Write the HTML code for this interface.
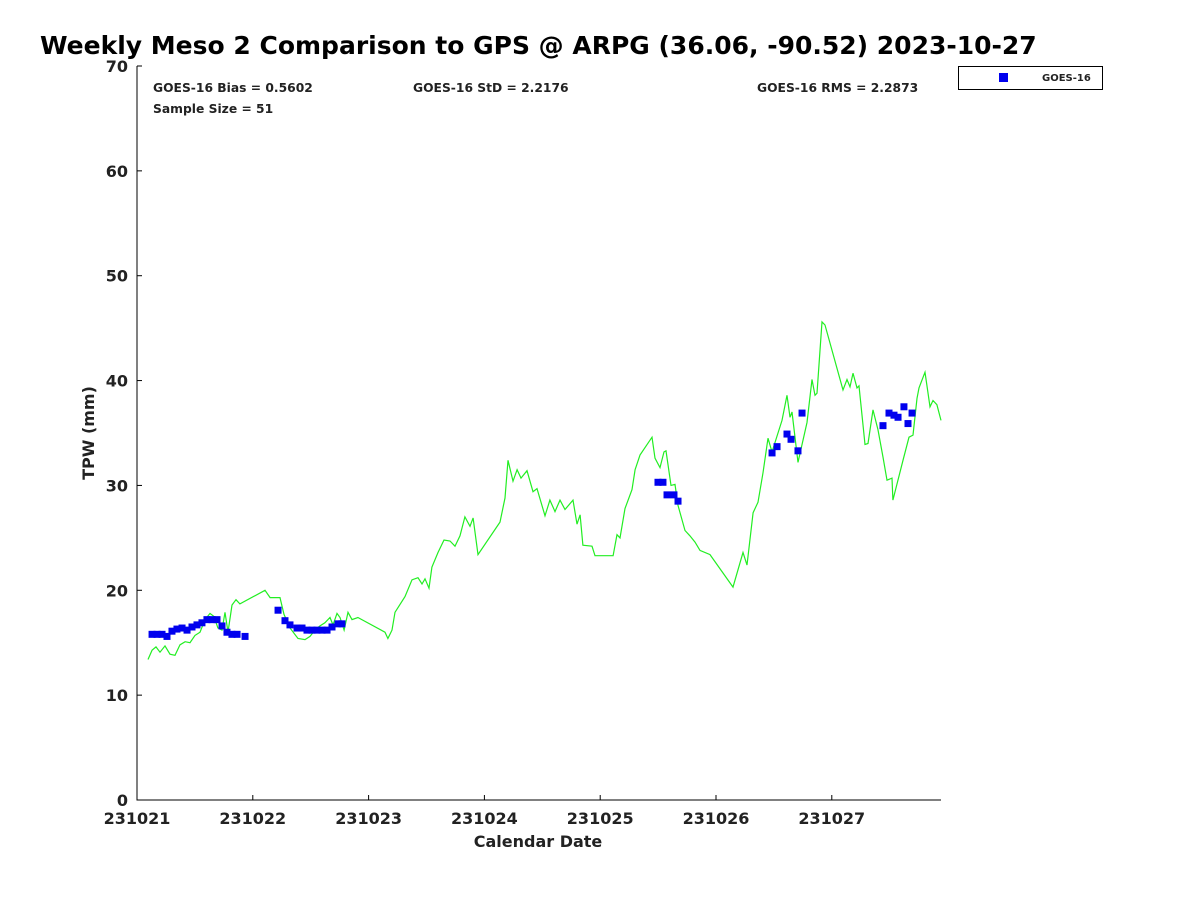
<!DOCTYPE html>
<html><head><meta charset="utf-8"><style>
body{margin:0;background:#fff;}
svg text{font-family:"DejaVu Sans","Liberation Sans",sans-serif;font-weight:bold;fill:#222;}
</style></head><body>
<svg id="chart" width="1200" height="900" xmlns="http://www.w3.org/2000/svg">
<text x="40" y="54" font-size="25" style="fill:#000">Weekly Meso 2 Comparison to GPS @ ARPG (36.06, -90.52) 2023-10-27</text>
<text x="153" y="92" font-size="12.3">GOES-16 Bias = 0.5602</text>
<text x="413" y="92" font-size="12.3">GOES-16 StD = 2.2176</text>
<text x="757" y="92" font-size="12.3">GOES-16 RMS = 2.2873</text>
<text x="153" y="113" font-size="12.3">Sample Size = 51</text>
<g>
<rect x="958.5" y="66.5" width="144" height="23" fill="#fff" stroke="#000"/>
<rect x="999" y="73" width="9" height="9" fill="#0000ee"/>
<text x="1042" y="81" font-size="10">GOES-16</text>
</g>
<text transform="translate(94,433) rotate(-90)" text-anchor="middle" font-size="16">TPW (mm)</text>
<text x="538" y="847" text-anchor="middle" font-size="16">Calendar Date</text>
<g id="axes"></g>
<g id="plot"></g>
</svg>
<script>
const yTicks=[0,10,20,30,40,50,60,70];
const xTickLabels=["231021","231022","231023","231024","231025","231026","231027"];
const gpsDays=[0.095,0.13,0.164,0.199,0.242,0.285,0.328,0.371,0.415,0.458,0.501,0.544,0.587,0.630,0.665,0.699,0.734,0.760,0.786,0.820,0.855,0.889,1.105,1.149,1.235,1.269,1.321,1.390,1.451,1.494,1.537,1.580,1.623,1.667,1.693,1.727,1.753,1.788,1.822,1.857,1.908,2.142,2.167,2.202,2.228,2.314,2.375,2.427,2.461,2.487,2.522,2.547,2.599,2.651,2.703,2.746,2.789,2.832,2.876,2.902,2.945,3.135,3.178,3.204,3.247,3.282,3.316,3.368,3.420,3.454,3.523,3.566,3.610,3.653,3.696,3.765,3.800,3.826,3.851,3.929,3.955,4.111,4.145,4.171,4.214,4.275,4.301,4.344,4.447,4.473,4.516,4.551,4.568,4.611,4.646,4.672,4.732,4.775,4.819,4.862,4.948,5.147,5.233,5.268,5.320,5.363,5.406,5.449,5.484,5.570,5.613,5.639,5.656,5.708,5.786,5.829,5.855,5.872,5.915,5.941,6.097,6.131,6.157,6.183,6.218,6.235,6.287,6.313,6.356,6.399,6.442,6.477,6.520,6.528,6.615,6.667,6.701,6.736,6.753,6.805,6.848,6.874,6.908,6.943];
const gpsTPW=[13.4,14.3,14.6,14.1,14.7,13.9,13.8,14.8,15.1,15.0,15.7,16.0,17.2,17.8,17.5,16.4,16.2,17.9,16.0,18.6,19.1,18.7,20.0,19.3,19.3,17.7,16.4,15.4,15.3,15.6,16.2,16.6,16.9,17.4,16.7,17.8,17.4,16.2,17.9,17.2,17.4,16.0,15.4,16.2,17.9,19.4,21.0,21.2,20.6,21.1,20.2,22.2,23.6,24.8,24.7,24.2,25.2,27.0,26.1,26.9,23.4,26.5,28.8,32.4,30.4,31.5,30.7,31.4,29.4,29.7,27.1,28.6,27.5,28.6,27.7,28.6,26.3,27.2,24.3,24.2,23.3,23.3,25.3,25.0,27.8,29.6,31.5,32.9,34.6,32.6,31.7,33.2,33.3,30.0,30.1,28.1,25.7,25.2,24.6,23.8,23.4,20.3,23.6,22.4,27.4,28.4,31.2,34.5,33.2,36.2,38.6,36.5,37.0,32.2,36.0,40.1,38.6,38.8,45.6,45.3,39.1,40.1,39.4,40.7,39.3,39.5,33.9,34.0,37.2,35.3,32.7,30.5,30.7,28.6,32.4,34.6,34.8,38.3,39.3,40.8,37.5,38.1,37.7,36.2];
const goesDays=[0.13,0.173,0.216,0.259,0.302,0.345,0.389,0.432,0.475,0.518,0.561,0.604,0.648,0.691,0.734,0.777,0.82,0.864,0.933,1.218,1.278,1.321,1.382,1.425,1.468,1.511,1.554,1.598,1.641,1.684,1.736,1.770,4.499,4.542,4.577,4.637,4.672,5.484,5.527,5.613,5.648,5.708,5.743,6.442,6.494,6.537,6.572,6.623,6.658,6.693];
const goesTPW=[15.8,15.8,15.8,15.6,16.1,16.3,16.4,16.2,16.5,16.7,16.9,17.2,17.2,17.2,16.6,16.0,15.8,15.8,15.6,18.1,17.1,16.7,16.4,16.4,16.2,16.2,16.2,16.2,16.2,16.5,16.8,16.8,30.3,30.3,29.1,29.1,28.5,33.1,33.7,34.9,34.4,33.3,36.9,35.7,36.9,36.7,36.5,37.5,35.9,36.9];

const NS="http://www.w3.org/2000/svg";
const X0=137,X1=941,Y0=800,Y1=66,PXD=115.8;
const xs=d=>X0+d*PXD;
const ys=v=>Y0-(v/70)*(Y0-Y1);
function mk(tag,attrs,parent){const e=document.createElementNS(NS,tag);for(const k in attrs)e.setAttribute(k,attrs[k]);parent.appendChild(e);return e;}
const axes=document.getElementById('axes'),plot=document.getElementById('plot');
const frame=mk('path',{d:`M${X0},${Y1} V${Y0} H${X1}`,fill:'none',stroke:'#000','stroke-width':1},axes);


yTicks.forEach(v=>{
  const y=ys(v);
  const t=mk('line',{x1:X0,x2:X0+5,y1:y,y2:y,stroke:'#000'},axes);
  
  
  const l=mk('text',{x:X0-9,y:y+6,'text-anchor':'end','font-size':16},axes);
  l.textContent=v;
  
  
});
xTickLabels.forEach((s,i)=>{
  const x=xs(i);
  const t=mk('line',{x1:x,x2:x,y1:Y0,y2:Y0-5,stroke:'#000'},axes);
  
  
  const l=mk('text',{x:x,y:Y0+24,'text-anchor':'middle','font-size':16},axes);
  l.textContent=s;
  
  
});
const pts=gpsDays.map((d,i)=>xs(d).toFixed(1)+','+ys(gpsTPW[i]).toFixed(1)).join(' ');
const line=mk('polyline',{points:pts,fill:'none',stroke:'#22ee22','stroke-width':1.2},plot);


goesDays.forEach((d,i)=>{
  const r=mk('rect',{x:xs(d)-3.5,y:ys(goesTPW[i])-3.5,width:7,height:7,fill:'#0000ee'},plot);
  
  
});
</script>
</body></html>
